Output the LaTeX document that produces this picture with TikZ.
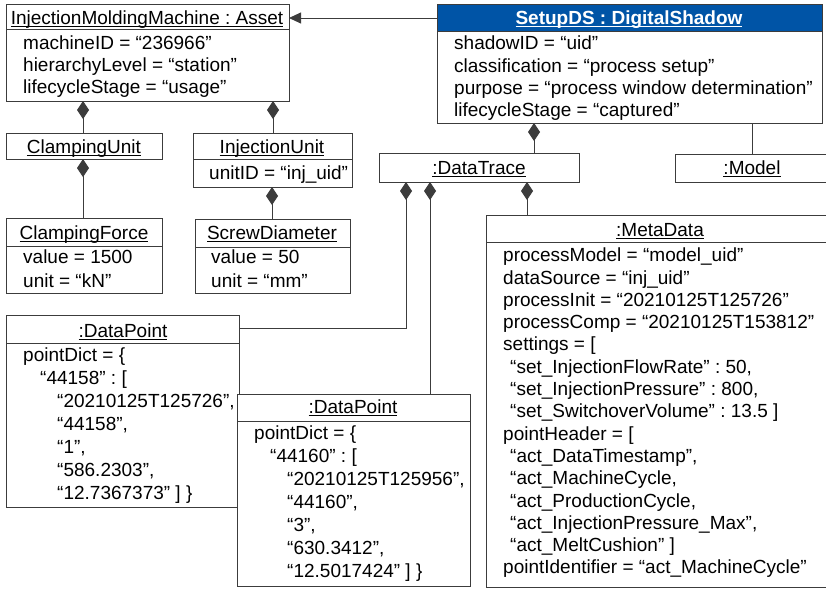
\documentclass[tikz,border=0pt]{standalone}
\usepackage{fontspec}
\setmainfont{Liberation Sans}
\usetikzlibrary{arrows.meta}
\definecolor{lc}{RGB}{60,60,60}
\definecolor{hdr}{RGB}{0,84,166}
\newcommand\ttl[1]{\setbox0\hbox{#1}\rlap{\rule[-2.4pt]{\wd0}{0.9pt}}\box0}
\newcommand\fs{\rule{0pt}{14pt}}
\newcommand\ind[1]{\hspace*{#1pt}}
\frenchspacing
\begin{document}
\begin{tikzpicture}[x=1pt,y=-1pt,
  box/.style={draw=lc,line width=0.9pt,fill=white,inner sep=0pt,outer sep=0pt,anchor=north west},
  ttlnode/.style={anchor=base,inner sep=0pt,font=\fontsize{19}{22}\selectfont},
  attrs/.style={anchor=north west,inner sep=0pt,align=left,font=\fontsize{19}{#1}\selectfont},
  attrs/.default=22.3,
  sep/.style={draw=lc,line width=0.9pt},
  comp/.style={draw=lc,line width=0.9pt,{Diamond[length=18pt,width=12pt]}-},
  link/.style={draw=lc,line width=0.9pt},
]
\useasboundingbox (0,0) rectangle (826,589);
\fill[white] (0,0) rectangle (826,589);

% InjectionMoldingMachine
\node[box,minimum width=283pt,minimum height=97pt] (imm) at (6,4) {};
\draw[sep] (imm.west |- 0,29) -- (imm.east |- 0,29);
\node[ttlnode] (immt) at (147,24.5) {\ttl{InjectionMoldingMachine : Asset}};
\node[attrs=22] (imma) at (23,35.5) {\fs machineID = “236966”\\hierarchyLevel = “station”\\lifecycleStage = “usage”};

% SetupDS
\node[box,minimum width=385pt,minimum height=119pt] (ds) at (437,4) {};
\fill[hdr] (ds.north west) rectangle (ds.east |- 0,31);
\draw[sep] (ds.north west) rectangle (ds.south east);
\draw[sep] (ds.west |- 0,31) -- (ds.east |- 0,31);
\node[ttlnode,text=white,font=\fontsize{19}{22}\selectfont\bfseries] (dst) at (629,24.5) {\ttl{SetupDS : DigitalShadow}};
\node[attrs] (dsa) at (454,35.5) {\fs shadowID = “uid”\\classification = “process setup”\\purpose = “process window determination”\\lifecycleStage = “captured”};

% Model
\node[box,minimum width=160pt,minimum height=28pt] (mod) at (675,154) {};
\node[ttlnode] (modt) at (752,174.5) {\ttl{:Model}};

% DataTrace
\node[box,minimum width=200pt,minimum height=29pt] (dt) at (379,153) {};
\node[ttlnode] (dtt) at (479,174.5) {\ttl{:DataTrace}};

% MetaData
\node[box,minimum width=350pt,minimum height=372pt] (md) at (486,215) {};
\draw[sep] (md.west |- 0,242) -- (md.east |- 0,242);
\node[ttlnode] (mdt) at (660,236.5) {\ttl{:MetaData}};
\node[attrs] (mda) at (503,247.5) {\fs processModel = “model\_uid”\\
dataSource = “inj\_uid”\\
processInit = “20210125T125726”\\
processComp = “20210125T153812”\\
settings = [\\
\ind{7}“set\_InjectionFlowRate” : 50,\\
\ind{7}“set\_InjectionPressure” : 800,\\
\ind{7}“set\_SwitchoverVolume” : 13.5 ]\\
pointHeader = [\\
\ind{7}“act\_DataTimestamp”,\\
\ind{7}“act\_MachineCycle,\\
\ind{7}“act\_ProductionCycle,\\
\ind{7}“act\_InjectionPressure\_Max”,\\
\ind{7}“act\_MeltCushion” ]\\
pointIdentifier = “act\_MachineCycle”};

% ClampingUnit
\node[box,minimum width=156pt,minimum height=26pt] (cu) at (6,133) {};
\node[ttlnode] (cut) at (84,153.5) {\ttl{ClampingUnit}};

% ClampingForce
\node[box,minimum width=156pt,minimum height=75pt] (cf) at (6,218) {};
\draw[sep] (cf.west |- 0,246) -- (cf.east |- 0,246);
\node[ttlnode] (cft) at (84,239.5) {\ttl{ClampingForce}};
\node[attrs=24] (cfa) at (23,249.5) {\fs value = 1500\\unit = “kN”};

% InjectionUnit
\node[box,minimum width=159pt,minimum height=54pt] (iu) at (193,133) {};
\draw[sep] (iu.west |- 0,159) -- (iu.east |- 0,159);
\node[ttlnode] (iut) at (272,153.5) {\ttl{InjectionUnit}};
\node[attrs] (iua) at (209,165.5) {\fs unitID = “inj\_uid”};

% ScrewDiameter
\node[box,minimum width=155pt,minimum height=74pt] (sd) at (195,219) {};
\draw[sep] (sd.west |- 0,247) -- (sd.east |- 0,247);
\node[ttlnode] (sdt) at (272,239.5) {\ttl{ScrewDiameter}};
\node[attrs=24] (sda) at (211,249.5) {\fs value = 50\\unit = “mm”};

% DataPoint 1
\node[box,minimum width=233pt,minimum height=192pt] (dp1) at (6,315) {};
\draw[sep] (dp1.west |- 0,343) -- (dp1.east |- 0,343);
\node[ttlnode] (dp1t) at (123,337.5) {\ttl{:DataPoint}};
\node[attrs=23] (dp1a) at (23,347.5) {\fs pointDict = \{\\
\ind{17}“44158” : [\\
\ind{34}“20210125T125726”,\\
\ind{34}“44158”,\\
\ind{34}“1”,\\
\ind{34}“586.2303”,\\
\ind{34}“12.7367373” ] \}};

% DataPoint 2
\node[box,minimum width=233pt,minimum height=192pt] (dp2) at (237,394) {};
\draw[sep] (dp2.west |- 0,421) -- (dp2.east |- 0,421);
\node[ttlnode] (dp2t) at (353,413.5) {\ttl{:DataPoint}};
\node[attrs=23] (dp2a) at (254,425.5) {\fs pointDict = \{\\
\ind{16}“44160” : [\\
\ind{33}“20210125T125956”,\\
\ind{33}“44160”,\\
\ind{33}“3”,\\
\ind{33}“630.3412”,\\
\ind{33}“12.5017424” ] \}};

% connectors
\draw[link,-{Triangle[length=12pt,width=11pt]}] (ds.west |- 0,18) -- (imm.east |- 0,18);
\draw[link] (ds.south -| 752,0) -- (mod.north -| 752,0);
\draw[comp] (ds.south -| 534,0) -- (dt.north -| 534,0);
\draw[comp] (dt.south -| 527,0) -- (md.north -| 527,0);
\draw[comp] (imm.south -| 83,0) -- (cu.north -| 83,0);
\draw[comp] (imm.south -| 273,0) -- (iu.north -| 273,0);
\draw[comp] (cu.south -| 83,0) -- (cf.north -| 83,0);
\draw[comp] (iu.south -| 272,0) -- (sd.north -| 272,0);
\draw[comp] (dt.south -| 406,0) |- (dp1.east |- 0,328);
\draw[comp] (dt.south -| 430,0) -- (dp2.north -| 430,0);
\end{tikzpicture}
\end{document}
